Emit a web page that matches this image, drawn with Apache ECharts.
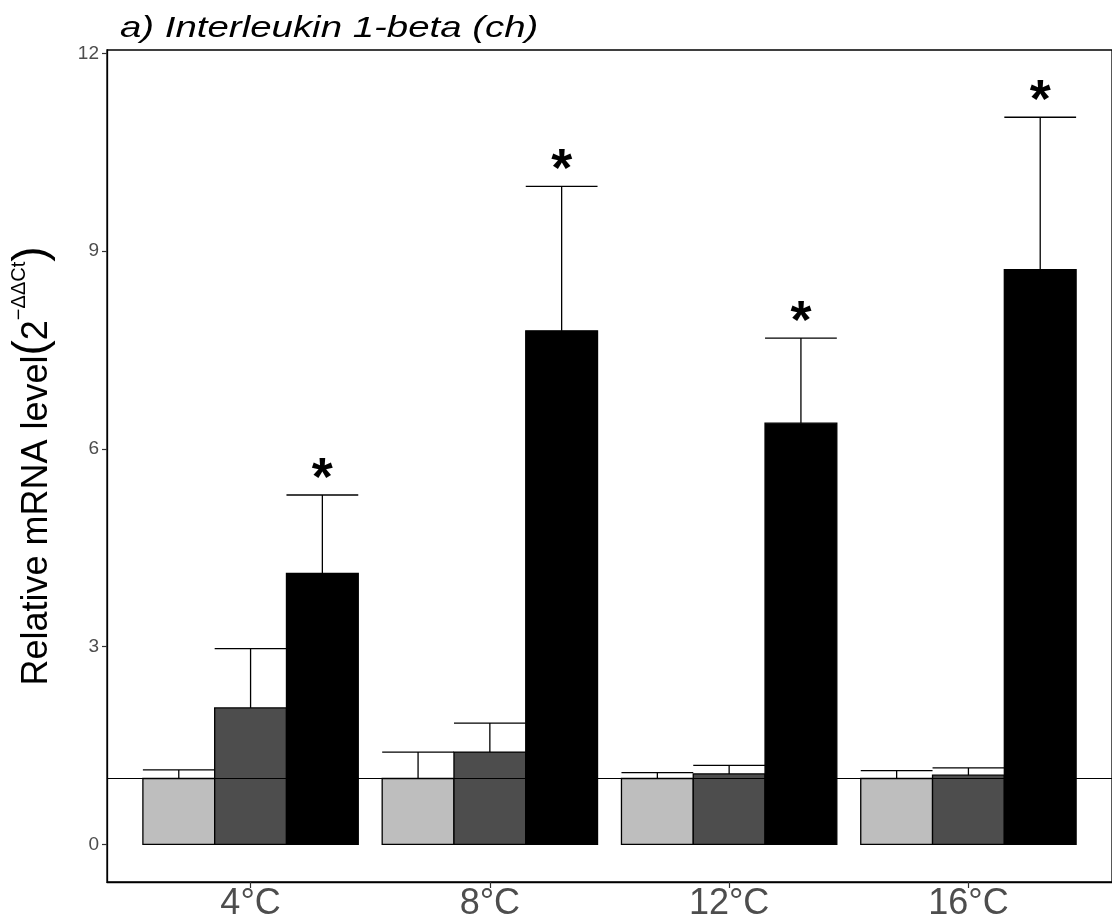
<!DOCTYPE html>
<html>
<head>
<meta charset="utf-8">
<script src="https://cdn.jsdelivr.net/npm/echarts@6/dist/echarts.min.js"></script>
<style>
  html, body { margin: 0; padding: 0; background: #fff; }
  #chart { width: 1112px; height: 924px; }
</style>
</head>
<body>
<div id="chart"></div>
<script>
// 溫度組別
const categories = ["4°C", "8°C", "12°C", "16°C"];
const yTicks = [0, 3, 6, 9, 12];

// 三組平均值與誤差上緣
const lightMean = [1.0, 1.0, 1.0, 1.0];
const lightUpper = [1.13, 1.40, 1.09, 1.12];
const darkMean = [2.07, 1.40, 1.07, 1.05];
const darkUpper = [2.97, 1.84, 1.20, 1.16];
const blackMean = [4.11, 7.79, 6.39, 8.72];
const blackUpper = [5.30, 9.98, 7.68, 11.03];
const blackSignif = ["*", "*", "*", "*"];

const fontFamily = "Liberation Sans, Arial, sans-serif";
const barHalf = 0.15;
const groups = [
    { offset: -0.3, mean: lightMean, upper: lightUpper, color: "#BEBEBE" },
    { offset: 0, mean: darkMean, upper: darkUpper, color: "#4D4D4D" },
    { offset: 0.3, mean: blackMean, upper: blackUpper, color: "#000000" },
];

function barRender(color) {
    return function (params, api) {
        const x = api.value(0);
        const p0 = api.coord([x - barHalf, api.value(1)]);
        const p1 = api.coord([x + barHalf, 0]);
        return {
            type: "rect",
            shape: { x: p0[0], y: p0[1], width: p1[0] - p0[0], height: p1[1] - p0[1] },
            style: { fill: color, stroke: "#000", lineWidth: 1.3 },
        };
    };
}

function errorRender(params, api) {
    const x = api.value(0);
    const top = api.coord([x, api.value(2)]);
    const bottom = api.coord([x, api.value(1)]);
    const left = api.coord([x - barHalf, api.value(2)]);
    const right = api.coord([x + barHalf, api.value(2)]);
    const style = { stroke: "#000", lineWidth: 1.3 };
    return {
        type: "group",
        children: [
            { type: "line", shape: { x1: top[0], y1: top[1], x2: bottom[0], y2: bottom[1] }, style },
            { type: "line", shape: { x1: left[0], y1: left[1], x2: right[0], y2: right[1] }, style },
        ],
    };
}

function starRender(params, api) {
    const p = api.coord([api.value(0), api.value(1)]);
    return {
        type: "text",
        x: p[0],
        y: p[1] + 12,
        style: {
            text: blackSignif[params.dataIndex],
            fill: "#000",
            font: "bold 54px " + fontFamily,
            align: "center",
            verticalAlign: "bottom",
        },
    };
}

const series = [];
groups.forEach((g) => {
    series.push({
        type: "custom",
        renderItem: barRender(g.color),
        data: g.mean.map((m, i) => [i + 1 + g.offset, m]),
        z: 2,
    });
});
groups.forEach((g) => {
    series.push({
        type: "custom",
        renderItem: errorRender,
        data: g.mean.map((m, i) => [i + 1 + g.offset, m, g.upper[i]]),
        z: 4,
    });
});
series.push({
    type: "custom",
    renderItem: starRender,
    data: blackUpper.map((u, i) => [i + 1 + 0.3, u]),
    z: 5,
});
// y = 1 參考線
series.push({
    type: "line",
    data: [],
    z: 3,
    markLine: {
        silent: true,
        symbol: "none",
        label: { show: false },
        lineStyle: { color: "#000", width: 1.2, type: "solid" },
        data: [{ yAxis: 1 }],
    },
});

const chart = echarts.init(document.getElementById("chart"));
chart.setOption({
    animation: false,
    backgroundColor: "#fff",
    // 標題略為橫向拉寬，貼近原圖
    graphic: [
        {
            type: "text",
            x: 120,
            y: 44,
            scaleX: 1.28,
            style: {
                text: "a) Interleukin 1-beta (ch)",
                font: "italic 30px " + fontFamily,
                fill: "#000",
                align: "left",
                verticalAlign: "bottom",
            },
        },
    ],
    grid: {
        left: 107,
        top: 50,
        width: 1013,
        height: 832,
        show: true,
        borderColor: "#000",
        borderWidth: 1.3,
    },
    xAxis: {
        type: "value",
        min: 0.4,
        max: 4.6,
        splitLine: { show: false },
        axisLine: { show: true, onZero: false, lineStyle: { color: "#000", width: 1.3 } },
        axisTick: { show: true, length: 6, customValues: [1, 2, 3, 4], lineStyle: { color: "#333", width: 1.2 } },
        axisLabel: {
            customValues: [1, 2, 3, 4],
            formatter: (v) => categories[Math.round(v) - 1],
            fontFamily,
            fontSize: 36,
            color: "#4D4D4D",
            margin: 4,
        },
    },
    yAxis: {
        type: "value",
        min: -0.57,
        max: 12.05,
        splitLine: { show: false },
        axisLine: { show: true, onZero: false, lineStyle: { color: "#000", width: 1.3 } },
        axisTick: { show: true, length: 5, customValues: yTicks, lineStyle: { color: "#333", width: 1.2 } },
        axisLabel: {
            customValues: yTicks,
            fontFamily,
            fontSize: 19,
            color: "#4D4D4D",
            margin: 8,
        },
        name: "{a|Relative mRNA level}{p|(}{a|2}{s|−ΔΔCt}{p|)}",
        nameLocation: "middle",
        nameRotate: 90,
        nameGap: 52,
        nameTextStyle: {
            fontFamily,
            color: "#000",
            rich: {
                a: { fontFamily, fontSize: 36, color: "#000", verticalAlign: "bottom" },
                p: { fontFamily, fontSize: 46, color: "#000", verticalAlign: "bottom" },
                s: { fontFamily, fontSize: 20, color: "#000", verticalAlign: "top" },
            },
        },
    },
    series,
});
</script>
</body>
</html>
